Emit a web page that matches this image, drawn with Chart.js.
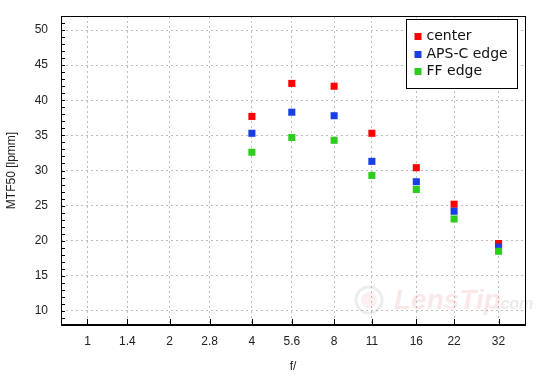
<!DOCTYPE html>
<html><head><meta charset="utf-8">
<script src="https://cdn.jsdelivr.net/npm/chart.js@4/dist/chart.umd.min.js"></script>
<style>html,body{margin:0;padding:0;background:#fff}#wrap{width:550px;height:380px}</style>
</head><body><div id="wrap"><canvas id="c" width="550" height="380"></canvas></div>
<script>
const fNumbers = [1, 1.4, 2, 2.8, 4, 5.6, 8, 11, 16, 22, 32];
const apertures = [4, 5.6, 8, 11, 16, 22, 32];
const center = [37.7, 42.4, 42.0, 35.3, 30.4, 25.2, 19.6];
const apscEdge = [35.3, 38.3, 37.8, 31.3, 28.4, 24.2, 19.1];
const ffEdge = [32.6, 34.7, 34.3, 29.3, 27.3, 23.1, 18.5];
const yTicks = [10, 15, 20, 25, 30, 35, 40, 45, 50];
const seriesNames = ['center', 'APS-C edge', 'FF edge'];
const seriesColors = ['#ff0000', '#1a3ee6', '#2ecc1f'];
const seriesValues = [center, apscEdge, ffEdge];

const tickFont = {family: 'Liberation Sans', size: 12};

const decor = {
  id: 'decor',
  beforeDatasetsDraw(chart) {
    const ctx = chart.ctx, a = chart.chartArea;
    ctx.save();
    const cx = a.right - 156, cy = a.bottom - 25;
    ctx.strokeStyle = 'rgba(160,160,160,0.2)';
    ctx.lineWidth = 3;
    ctx.beginPath(); ctx.arc(cx, cy, 13, 0, Math.PI * 2); ctx.stroke();
    ctx.fillStyle = 'rgba(220,120,120,0.12)';
    ctx.beginPath(); ctx.arc(cx, cy, 8, 0, Math.PI * 2); ctx.fill();
    ctx.font = 'italic bold 28px "Liberation Sans"';
    ctx.fillStyle = 'rgba(225,120,120,0.17)';
    ctx.textBaseline = 'alphabetic';
    ctx.fillText('LensTip', a.right - 131, a.bottom - 16);
    ctx.font = 'italic bold 16px "Liberation Sans"';
    ctx.fillStyle = 'rgba(150,150,150,0.2)';
    ctx.fillText('.com', a.right - 29, a.bottom - 16);
    ctx.restore();
  },
  afterDraw(chart) {
    const ctx = chart.ctx, a = chart.chartArea;
    const xs = chart.scales.x, ys = chart.scales.y;
    ctx.save();
    ctx.strokeStyle = '#000';
    ctx.lineWidth = 1;
    ctx.strokeRect(Math.round(a.left) + 0.5, Math.round(a.top) + 0.5,
      Math.round(a.right - a.left), Math.round(a.bottom - a.top));
    ctx.beginPath();
    ctx.moveTo(a.left, Math.round(a.bottom) - 0.5); ctx.lineTo(a.right, Math.round(a.bottom) - 0.5);
    ctx.stroke();
    ctx.beginPath();
    for (let v = Math.ceil(ys.min); v <= ys.max; v++) {
      const y = Math.round(ys.getPixelForValue(v)) + 0.5;
      ctx.moveTo(a.left, y); ctx.lineTo(a.left + 4, y);
    }
    fNumbers.forEach(f => {
      const x = Math.round(xs.getPixelForValue(f)) + 0.5;
      ctx.moveTo(x, a.bottom); ctx.lineTo(x, a.bottom - 6);
    });
    ctx.stroke();
    const bw = 111, bh = 69;
    const bx = Math.round(a.right - 8 - bw) + 0.5, by = Math.round(a.top + 3) + 0.5;
    ctx.fillStyle = '#fff';
    ctx.fillRect(bx, by, bw, bh);
    ctx.strokeRect(bx, by, bw, bh);
    ctx.font = '14px "DejaVu Sans"';
    ctx.textBaseline = 'middle';
    chart.data.datasets.forEach((ds, i) => {
      const ry = by + 17 + i * 17.5;
      ctx.fillStyle = ds.backgroundColor;
      ctx.fillRect(bx + 8, Math.round(ry - 3.5), 7, 7);
      ctx.fillStyle = '#111';
      ctx.fillText(ds.label, bx + 20, ry);
    });
    ctx.restore();
  }
};

const datasets = seriesNames.map((name, i) => ({
  label: name,
  data: apertures.map((f, j) => ({x: f, y: seriesValues[i][j]})),
  backgroundColor: seriesColors[i],
  borderColor: seriesColors[i],
  borderWidth: 0,
  pointStyle: 'rect',
  pointRadius: 5,
  pointHoverRadius: 5,
  showLine: false,
  order: seriesNames.length - i
}));

new Chart(document.getElementById('c'), {
  type: 'scatter',
  data: {datasets},
  options: {
    responsive: false,
    animation: false,
    devicePixelRatio: 1,
    layout: {padding: {top: 16, right: 25, left: 0, bottom: 0}},
    plugins: {legend: {display: false}, tooltip: {enabled: false}},
    scales: {
      x: {
        type: 'logarithmic', min: 0.8, max: 40,
        afterBuildTicks: s => { s.ticks = fNumbers.map(v => ({value: v})); },
        afterFit: s => { s.height = 55; s.paddingLeft = 0; s.paddingRight = 0; },
        grid: {color: '#bcbcbc', lineWidth: 1, drawTicks: false},
        border: {display: false, dash: [2, 3]},
        ticks: {
          font: tickFont, color: '#222', padding: 9, autoSkip: false,
          maxRotation: 0, minRotation: 0,
          callback: v => String(v)
        },
        title: {display: true, text: 'f/', font: tickFont, color: '#222', padding: {top: 0, bottom: 6}}
      },
      y: {
        type: 'linear', min: 8, max: 52,
        afterBuildTicks: s => { s.ticks = yTicks.map(v => ({value: v})); },
        afterFit: s => { s.width = 61; s.paddingTop = 0; s.paddingBottom = 0; },
        grid: {color: '#bcbcbc', lineWidth: 1, drawTicks: false},
        border: {display: false, dash: [2, 3]},
        ticks: {font: tickFont, color: '#222', padding: 13, callback: v => String(v)},
        title: {display: true, text: 'MTF50 [lpmm]', font: tickFont, color: '#222', padding: {top: 4, bottom: 0}}
      }
    }
  },
  plugins: [decor]
});
</script>
</body></html>
